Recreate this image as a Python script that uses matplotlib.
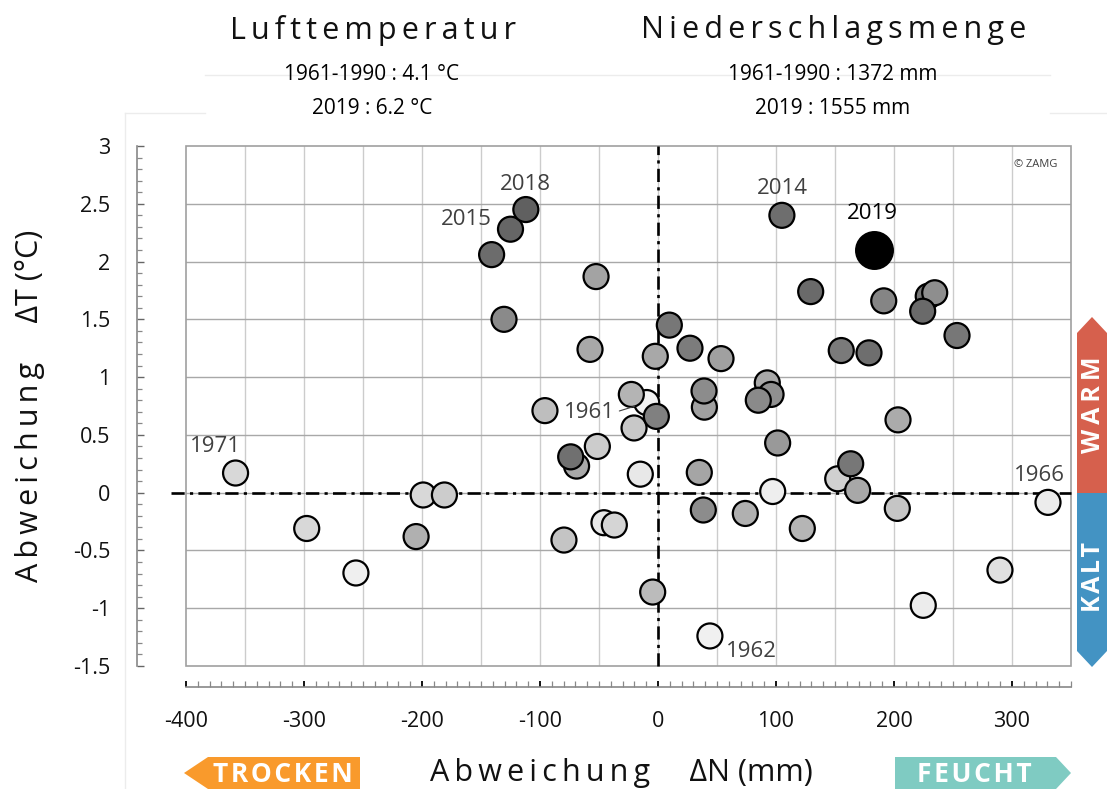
import matplotlib
matplotlib.use('Agg')
import matplotlib.pyplot as plt
from matplotlib.patches import Polygon, Rectangle
from matplotlib.ticker import MultipleLocator
import numpy as np

plt.rcParams['font.family'] = ['Open Sans', 'DejaVu Sans']

# Abweichungen vom Mittel 1961-1990, in Zeichenreihenfolge (hell -> dunkel)
dN = [-9.6, 44, -256, 97.2, 330.5, 224.8, -45.8, -15, 289.8, -358,
      -297.7, -199, -37, 152.3, -181, -51.4, -20.3, 202.8, -79.7, -95.8,
      -4.5, 122.3, -22.6, -205, 74, -69, 169.2, 92.6, -57.6, -2.3,
      35, 203.4, -52.5, 39.3, 53.4, 101.4, 95.8, 39, 38.4, 85,
      -130.5, 229, 234.5, 191.3, -1.4, 27.1, 155.3, 253.4, 9.6, 163.3,
      -74, 178.8, 105, -141, 129.4, 224.3, -125, -112]
dT = [0.78, -1.24, -0.695, 0.01, -0.084, -0.975, -0.26, 0.16, -0.67, 0.17,
      -0.31, -0.02, -0.28, 0.12, -0.02, 0.40, 0.56, -0.136, -0.41, 0.71,
      -0.86, -0.31, 0.85, -0.38, -0.18, 0.23, 0.02, 0.95, 1.24, 1.18,
      0.175, 0.63, 1.87, 0.74, 1.16, 0.43, 0.85, 0.88, -0.15, 0.80,
      1.50, 1.70, 1.73, 1.66, 0.66, 1.25, 1.23, 1.36, 1.45, 0.25,
      0.31, 1.21, 2.40, 2.06, 1.74, 1.57, 2.28, 2.45]
grey = ['#f2f2f2', '#f0f0f0', '#efefef', '#eeeeee', '#ececec', '#ececec', '#e8e8e8', '#e8e8e8', '#e0e0e0', '#d8d8d8',
        '#d8d8d8', '#d8d8d8', '#d5d5d5', '#d0d0d0', '#cccccc', '#cccccc', '#c8c8c8', '#c5c5c5', '#c4c4c4', '#bebebe',
        '#bbbbbb', '#b5b5b5', '#b4b4b4', '#b0b0b0', '#b0b0b0', '#a8a8a8', '#a8a8a8', '#a8a8a8', '#a8a8a8', '#a8a8a8',
        '#a5a5a5', '#ababab', '#a3a3a3', '#a0a0a0', '#a0a0a0', '#999999', '#909090', '#8c8c8c', '#8c8c8c', '#8a8a8a',
        '#8a8a8a', '#777777', '#8e8e8e', '#858585', '#808080', '#7c7c7c', '#7a7a7a', '#777777', '#777777', '#777777',
        '#707070', '#6e6e6e', '#6e6e6e', '#6c6c6c', '#6a6a6a', '#6a6a6a', '#666666', '#606060']
dN_2019, dT_2019 = 183.3, 2.10

# beschriftete Jahre: (Jahr, dN, dT)
labelled = [('1961', -9.6, 0.78), ('1962', 44, -1.24), ('1966', 330.5, -0.084),
            ('1971', -358, 0.17), ('2014', 105, 2.40), ('2015', -125, 2.28),
            ('2018', -112, 2.45)]

xticks = [-400, -300, -200, -100, 0, 100, 200, 300]
xtick_labels = ['-400', '-300', '-200', '-100', '0', '100', '200', '300']
yticks = [-1.5, -1, -0.5, 0, 0.5, 1, 1.5, 2, 2.5, 3]
ytick_labels = ['-1.5', '-1', '-0.5', '0', '0.5', '1', '1.5', '2', '2.5', '3']

THIN = '\u2009'
HAIR = '\u200a'


def spaced(word, sep=THIN):
    return sep.join(word)


W, H = 1107, 789
fig = plt.figure(figsize=(W / 100, H / 100), dpi=100)
fig.patch.set_facecolor('white')


def px(x, y):
    return (x / W, 1 - y / H)


ax = fig.add_axes([186 / W, 1 - 666 / H, (1071 - 186) / W, (666 - 146) / H])
ax.set_xlim(-400, 350)
ax.set_ylim(-1.5, 3)

# Gitter
for gx in np.arange(-350, 350, 50):
    ax.axvline(gx, color='#cccccc', lw=1.0, zorder=0)
for gy in np.arange(-1.0, 3.0, 0.5):
    ax.axhline(gy, color='#a8a8a8', lw=1.0, zorder=0)
ax.add_patch(Rectangle((0, 0), 1, 1, transform=ax.transAxes, fill=False,
                       edgecolor='#a0a0a0', lw=1.2, zorder=1, clip_on=False))

# Nulllinien
dash = (0, (5, 2, 1.2, 2))
ax.plot([-412.7, 350], [0, 0], color='black', lw=1.9, ls=dash,
        clip_on=False, zorder=2)
ax.plot([0, 0], [-1.5, 3], color='black', lw=1.9, ls=dash,
        clip_on=False, zorder=2)

# Punkte
ax.scatter(dN, dT, s=324, c=grey, edgecolors='black', linewidths=1.6, zorder=3,
           clip_on=False)
ax.scatter([dN_2019], [dT_2019], s=700, c='black', edgecolors='black',
           linewidths=1.6, zorder=4)

offsets = {'1961': (-41, -7), '1962': (30, -11), '1966': (-6, 19),
           '1971': (-14.5, 19), '2014': (0, 19.5), '2015': (-32, 7),
           '2018': (0, 18)}
for year, x, y in labelled:
    if year == '1961':
        ax.annotate(year, xy=(x, y), xytext=offsets[year], textcoords='offset points',
                    ha='center', va='center', fontsize=16, color='#404040', zorder=5,
                    arrowprops=dict(arrowstyle='-', color='#404040', lw=0.8,
                                    relpos=(1, 0.5), shrinkA=1, shrinkB=9))
    else:
        ax.annotate(year, xy=(x, y), xytext=offsets[year], textcoords='offset points',
                    ha='center', va='center', fontsize=16, color='#404040', zorder=5)
ax.annotate('2019', xy=(dN_2019, dT_2019), xytext=(-1.5, 26), textcoords='offset points',
            ha='center', va='center', fontsize=16, color='black', zorder=5)

ax.text(0.985, 0.975, '© ZAMG', transform=ax.transAxes, ha='right', va='top',
        fontsize=8, color='#404040')

# Achsen
for s in ['top', 'right']:
    ax.spines[s].set_visible(False)
ax.spines['left'].set_position(('outward', 35.3))
ax.spines['bottom'].set_position(('outward', 15.1))
ax.spines['left'].set_color('#888888')
ax.spines['bottom'].set_color('#888888')
ax.spines['left'].set_linewidth(1.2)
ax.spines['bottom'].set_linewidth(1.2)

ax.set_xticks(xticks)
ax.set_xticklabels(xtick_labels)
ax.set_yticks(yticks)
ax.set_yticklabels(ytick_labels)
ax.xaxis.set_minor_locator(MultipleLocator(10))
ax.yaxis.set_minor_locator(MultipleLocator(0.1))
ax.tick_params(axis='x', which='major', direction='in', length=4.5, width=1.3,
               color='black', pad=17, labelsize=15.5, labelcolor='#111111')
ax.tick_params(axis='x', which='minor', direction='in', length=4.5, width=0.9,
               color='#888888')
ax.tick_params(axis='y', which='major', direction='in', length=5, width=1.0,
               color='#666666', pad=19, labelsize=15.5, labelcolor='#111111')
ax.tick_params(axis='y', which='minor', direction='in', length=3.6, width=0.9,
               color='#888888')

fig.text(*px(30, 406), spaced('Abweichung') + '     ΔT (°C)', rotation=90,
         ha='center', va='center', fontsize=22, color='#111111')
fig.text(*px(621, 773), spaced('Abweichung') + '     ΔN (mm)',
         ha='center', va='center', fontsize=22, color='#111111')

# Kopf
fig.text(*px(373, 30), spaced('Lufttemperatur'), ha='center', va='center',
         fontsize=22, color='#111111')
fig.text(*px(834, 30), spaced('Niederschlagsmenge'), ha='center',
         va='center', fontsize=22, color='#111111')
fig.text(*px(372, 75), '1961-1990 : 4.1 °C', ha='center', va='center', fontsize=15)
fig.text(*px(372, 108), '2019 : 6.2 °C', ha='center', va='center', fontsize=15)
fig.text(*px(833, 75), '1961-1990 : 1372 mm', ha='center', va='center', fontsize=15)
fig.text(*px(833, 108), '2019 : 1555 mm', ha='center', va='center', fontsize=15)

# blasse Rahmenlinien
for (x0, y0, x1, y1) in [(205, 75, 1050, 75), (125, 113, 205, 113),
                         (1050, 113, 1107, 113), (125, 113, 125, 789)]:
    fig.add_artist(plt.Line2D([x0 / W, x1 / W], [1 - y0 / H, 1 - y1 / H],
                              color='#ececec', lw=1, zorder=0))


def shape(points, color, label, tx, ty, rot=0, size=19):
    fig.add_artist(Polygon([px(x, y) for x, y in points], closed=True,
                           facecolor=color, edgecolor='none',
                           transform=fig.transFigure))
    fig.text(*px(tx, ty), label, ha='center', va='center', rotation=rot,
             color='white', fontsize=size, fontweight='bold')


shape([(1077, 493), (1077, 333), (1092, 317), (1107, 333), (1107, 493)],
      '#d6604d', spaced('WARM', THIN), 1093, 405, rot=90, size=18)
shape([(1077, 493), (1107, 493), (1107, 651), (1092, 667), (1077, 651)],
      '#4393c3', spaced('KALT', HAIR), 1093, 577, rot=90, size=18)
shape([(184, 773), (208, 757), (360, 757), (360, 789), (208, 789)],
      '#f99a2c', spaced('TROCKEN', HAIR), 283, 774)
shape([(895, 757), (1056, 757), (1071, 773), (1056, 789), (895, 789)],
      '#7fcbc2', spaced('FEUCHT', HAIR), 974, 774)

fig.savefig('out.png', dpi=100)
